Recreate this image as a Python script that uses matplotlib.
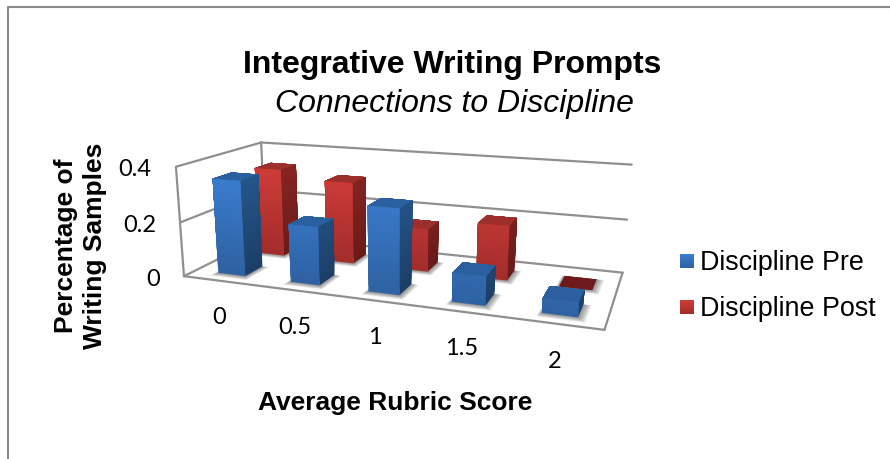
import numpy as np
import matplotlib
matplotlib.use('Agg')
import matplotlib.pyplot as plt
from matplotlib.colors import LinearSegmentedColormap, to_rgba
from matplotlib.lines import Line2D

scores = ['0', '0.5', '1', '1.5', '2']
pre = [0.35, 0.21, 0.30, 0.10, 0.05]
post = [0.34, 0.31, 0.16, 0.20, 0.0]
z_ticks = ['0', '0.2', '0.4']

W, H = 890, 460
plt.rcParams['font.family'] = ['Liberation Sans', 'DejaVu Sans']

fig = plt.figure(figsize=(W / 100, H / 100), dpi=100, facecolor='white')


def px(x, y):
    return x / W, 1 - y / H


# camera set up so the box centre lands on the optical axis at (cx, cy)
cx, cy = 389, 250
focal = 813.0
elev, azim = 16.0, -69.4
corner = (184, 278)
len_x, len_y, len_z = 0.507, 0.206, 0.137

e, a = np.radians(elev), np.radians(azim)
u = np.array([-np.sin(a), np.cos(a), 0])
v = np.array([-np.sin(e) * np.cos(a), -np.sin(e) * np.sin(a), np.cos(e)])
w = -np.array([np.cos(e) * np.cos(a), np.cos(e) * np.sin(a), np.sin(e)])
origin = (corner[0] - cx) / focal * u + (cy - corner[1]) / focal * v + w

fm = 0.095 * 2 * focal / 890
lims = []
half = []
for k, (length, top) in enumerate([(len_x, 5.0), (len_y, 1.0), (len_z, 0.4)]):
    r = max(abs(origin[k] - w[k]), abs(origin[k] + length - w[k]))
    scale = top / length
    lims.append(((w[k] - r - origin[k]) * scale, (w[k] + r - origin[k]) * scale))
    half.append(r)
aspect = 10 * fm * 2 * np.array(half)
zoom = np.linalg.norm(aspect) / (1.8294640721620434 * 25 / 24)

side = 861
ax_x, ax_y = cx - 13, cy + 11
ax = fig.add_axes([(ax_x - side / 2) / W, 1 - (ax_y + side / 2) / H, side / W, side / H],
                  projection='3d', computed_zorder=False)
ax.set_proj_type('persp', focal_length=fm)
ax.view_init(elev=elev, azim=azim)
ax.set_box_aspect(aspect, zoom=zoom)
ax.set_xlim(*lims[0])
ax.set_ylim(*lims[1])
ax.set_zlim(*lims[2])
ax.set_axis_off()
ax.patch.set_alpha(0)

wall = '#8f8f8f'
order = [0]


def next_z():
    order[0] += 1
    return order[0]


def line(xs, ys, zs):
    ax.plot(xs, ys, zs, color=wall, lw=1.6, zorder=next_z(), solid_capstyle='round')


for h in [0, 0.2, 0.4]:
    line([0, 0], [0, 1], [h, h])
    line([0, 5], [1, 1], [h, h])
line([0, 0], [0, 0], [0, 0.4])
line([0, 0], [1, 1], [0, 0.4])
line([0, 5], [0, 0], [0, 0])
line([5, 5], [0, 1], [0, 0])

bar_w = 0.38
bar_d = 0.21
clear = (0, 0, 0, 0)


def shadow(x, y):
    # soft shadow on the floor, built from stacked transparent boxes
    for g in [0.09, 0.075, 0.06, 0.045, 0.03, 0.015]:
        ax.bar3d(x - g * 0.4, y - g * 0.7, 0, bar_w + g * 1.4, bar_d + g * 0.7, 0,
                 color='#000000', alpha=0.04, shade=False, zorder=next_z())


def bar(x, y, v, front_hi, front_lo, side_hi, side_lo, top):
    if v == 0:
        ax.bar3d(x, y, 0, bar_w, bar_d, 0, color='#6f1a1a', shade=False, zorder=next_z())
        return
    cf = LinearSegmentedColormap.from_list('f', [front_lo, front_hi])
    cs = LinearSegmentedColormap.from_list('s', [side_lo, side_hi])
    levels = np.linspace(0, v, 14, endpoint=False)
    for z0 in levels:
        t = z0 / 0.36
        # only the faces the camera can see: top, front and right
        colors = [clear, to_rgba(top), cf(t), clear, clear, cs(t)]
        ax.bar3d(x, y, z0, bar_w, bar_d, v - z0, color=colors, shade=False,
                 zorder=next_z())


blue = ('#3b7dcf', '#2e62a3', '#26568c', '#1c3f68', '#2a609f')
red = ('#d23d39', '#a32d2b', '#8a2523', '#691b1a', '#9c2e2c')

# back row first so the front row covers it
for i, val in enumerate(post):
    shadow(i + 0.35, 0.6)
for i, val in enumerate(post):
    bar(i + 0.35, 0.6, val, *red)
for i, val in enumerate(pre):
    shadow(i + 0.32, 0.13)
for i, val in enumerate(pre):
    bar(i + 0.32, 0.13, val, *blue)

# chart frame
fig.add_artist(Line2D([8 / W, 8 / W, 1], [0, 1 - 8 / H, 1 - 8 / H], color='#8a8a8a', lw=1.5))

x, y = px(452, 65)
fig.text(x, y, 'Integrative Writing Prompts', ha='center', va='center', fontsize=23, fontweight='bold')
x, y = px(454, 104)
fig.text(x, y, 'Connections to Discipline', ha='center', va='center', fontsize=23, fontstyle='italic')

x, y = px(66, 246)
fig.text(x, y, 'Percentage of', ha='center', va='center', rotation=90, fontsize=19, fontweight='bold')
x, y = px(95, 246)
fig.text(x, y, 'Writing Samples', ha='center', va='center', rotation=90, fontsize=19, fontweight='bold')
x, y = px(395, 403)
fig.text(x, y, 'Average Rubric Score', ha='center', va='center', fontsize=19, fontweight='bold')

tick_pos = [(219, 317), (295, 328), (375, 338), (462, 349), (555, 361)]
for lab, (a_, b_) in zip(scores, tick_pos):
    x, y = px(a_, b_)
    fig.text(x, y, lab, ha='center', va='center', fontsize=17, family=['Lato', 'DejaVu Sans'])
z_pos = [(153, 279), (140, 226), (135, 170)]
for lab, (a_, b_) in zip(z_ticks, z_pos):
    x, y = px(a_, b_)
    fig.text(x, y, lab, ha='center', va='center', fontsize=17, family=['Lato', 'DejaVu Sans'])

# legend swatches with the same vertical fade as the bars
for label, yc, (hi, lo, *_) in [('Discipline Pre', 262, blue), ('Discipline Post', 308, red)]:
    sw = fig.add_axes([680 / W, 1 - (yc + 7) / H, 14 / W, 14 / H])
    cm = LinearSegmentedColormap.from_list('g', [hi, lo])
    sw.imshow(np.linspace(0, 1, 14)[:, None], cmap=cm, aspect='auto')
    sw.axis('off')
    x, y = px(700, yc + 1)
    fig.text(x, y, label, ha='left', va='center', fontsize=19.4)

fig.savefig('out.png', dpi=100)
